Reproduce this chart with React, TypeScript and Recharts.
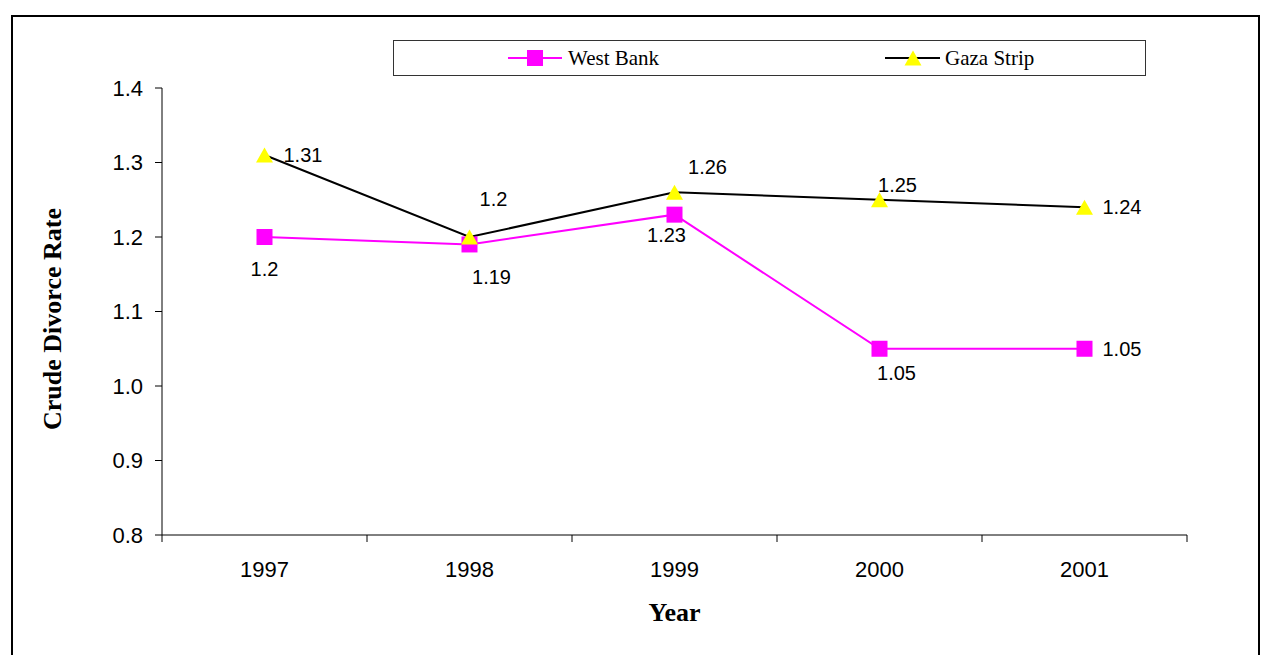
import { LineChart, Line, XAxis, YAxis, Legend, LabelList, Label } from 'recharts';

// values
const years = ['1997', '1998', '1999', '2000', '2001'];
const westBank = [1.2, 1.19, 1.23, 1.05, 1.05];
const gazaStrip = [1.31, 1.2, 1.26, 1.25, 1.24];
const yTicks = [0.8, 0.9, 1.0, 1.1, 1.2, 1.3, 1.4];

const data = years.map((year, i) => ({ year, west: westBank[i], gaza: gazaStrip[i] }));

// layout
const W = 1269;
const H = 655;
const M = { top: 88, right: 82, bottom: 80, left: 102 };
const Y_W = 60;
const X_H = 40;
const PLOT_W = W - M.left - Y_W - M.right;
const STEP = PLOT_W / years.length;

const SANS = "'Liberation Sans', Arial, sans-serif";
const SERIF = "'Liberation Serif', 'Times New Roman', serif";
const MAGENTA = '#ff00ff';
const YELLOW = '#ffff00';

// label placement per point: [dx, dy, anchor]
const westLabelPos: [number, number, string][] = [
  [0, 32, 'middle'],
  [22, 32, 'middle'],
  [-8, 20, 'middle'],
  [17, 24, 'middle'],
  [18, 0, 'start'],
];
const gazaLabelPos: [number, number, string][] = [
  [19, 0, 'start'],
  [24, -38, 'middle'],
  [33, -25, 'middle'],
  [18, -15, 'middle'],
  [18, 0, 'start'],
];

const makeLabel = (pos: [number, number, string][]) => (props: any) => {
  const { x, y, value, index } = props;
  const [dx, dy, anchor] = pos[index];
  return (
    <text
      x={x + dx}
      y={y + dy}
      dy="0.355em"
      textAnchor={anchor}
      fontFamily={SANS}
      fontSize={20}
      fill="#000"
    >
      {value}
    </text>
  );
};

const SquareDot = (props: any) => {
  const { cx, cy, index } = props;
  return <rect key={`sq-${index}`} x={cx - 8} y={cy - 8} width={16} height={16} fill={MAGENTA} />;
};

const TriangleDot = (props: any) => {
  const { cx, cy, index } = props;
  return (
    <path
      key={`tr-${index}`}
      d={`M${cx},${cy - 7.5} L${cx + 8.5},${cy + 7.5} L${cx - 8.5},${cy + 7.5} Z`}
      fill={YELLOW}
    />
  );
};

const XTick = (props: any) => {
  const { x, y, payload, index } = props;
  const half = STEP / 2;
  return (
    <g>
      <line x1={x - half} x2={x - half} y1={y} y2={y + 7} stroke="#000" />
      {index === years.length - 1 && (
        <line x1={x + half} x2={x + half} y1={y} y2={y + 7} stroke="#000" />
      )}
      <text x={x} y={y + 42} textAnchor="middle" fontFamily={SANS} fontSize={22} fill="#000">
        {payload.value}
      </text>
    </g>
  );
};

function LegendBox() {
  return (
    <div style={{ width: 753, height: 36, border: '1px solid #333', boxSizing: 'border-box', background: '#fff' }}>
      <svg width={751} height={34} style={{ display: 'block' }}>
        <line x1={114} x2={168} y1={17} y2={17} stroke={MAGENTA} strokeWidth={2} />
        <rect x={133} y={9} width={16} height={16} fill={MAGENTA} />
        <text x={174} y={24} fontFamily={SERIF} fontSize={21} fill="#000">West Bank</text>
        <line x1={491} x2={546} y1={17} y2={17} stroke="#000" strokeWidth={2} />
        <path d="M519,9.5 L527.5,24.5 L510.5,24.5 Z" fill={YELLOW} />
        <text x={551} y={24} fontFamily={SERIF} fontSize={21} fill="#000">Gaza Strip</text>
      </svg>
    </div>
  );
}

export default function App() {
  return (
    <div style={{ position: 'absolute', left: 0, top: 0, width: W, height: H, overflow: 'hidden', background: '#fff' }}>
      <div
        style={{
          position: 'absolute',
          left: 11,
          top: 15,
          width: 1249,
          height: 700,
          border: '2px solid #000',
          boxSizing: 'border-box',
        }}
      />
      <div style={{ position: 'absolute', left: 0, top: 0 }}>
        <LineChart width={W} height={H} data={data} margin={M}>
          <XAxis
            dataKey="year"
            height={X_H}
            padding={{ left: STEP / 2, right: STEP / 2 }}
            axisLine={{ stroke: '#000' }}
            tickLine={false}
            tickSize={0}
            tickMargin={0}
            tick={<XTick />}
            interval={0}
          >
            <Label
              content={(p: any) => (
                <text
                  x={p.viewBox.x + p.viewBox.width / 2}
                  y={621}
                  textAnchor="middle"
                  fontFamily={SERIF}
                  fontWeight="bold"
                  fontSize={26}
                  fill="#000"
                >
                  Year
                </text>
              )}
            />
          </XAxis>
          <YAxis
            width={Y_W}
            domain={[0.8, 1.4]}
            ticks={yTicks}
            allowDataOverflow
            interval={0}
            tickFormatter={(v: number) => v.toFixed(1)}
            axisLine={{ stroke: '#000' }}
            tickLine={{ stroke: '#000' }}
            tickSize={7}
            tickMargin={12}
            tick={{ fill: '#000', fontFamily: SANS, fontSize: 22 }}
          >
            <Label
              content={() => (
                <text
                  x={61}
                  y={319}
                  transform="rotate(-90, 61, 319)"
                  textAnchor="middle"
                  fontFamily={SERIF}
                  fontWeight="bold"
                  fontSize={26}
                  fill="#000"
                >
                  Crude Divorce Rate
                </text>
              )}
            />
          </YAxis>
          <Legend
            layout="horizontal"
            verticalAlign="middle"
            align="center"
            wrapperStyle={{ left: 393, top: 40, width: 753, height: 36 }}
            content={() => <LegendBox />}
          />
          <Line
            type="linear"
            dataKey="west"
            name="West Bank"
            stroke={MAGENTA}
            strokeWidth={2}
            dot={SquareDot}
            activeDot={false}
            isAnimationActive={false}
          >
            <LabelList dataKey="west" content={makeLabel(westLabelPos)} />
          </Line>
          <Line
            type="linear"
            dataKey="gaza"
            name="Gaza Strip"
            stroke="#000"
            strokeWidth={2}
            dot={TriangleDot}
            activeDot={false}
            isAnimationActive={false}
          >
            <LabelList dataKey="gaza" content={makeLabel(gazaLabelPos)} />
          </Line>
        </LineChart>
      </div>
    </div>
  );
}
